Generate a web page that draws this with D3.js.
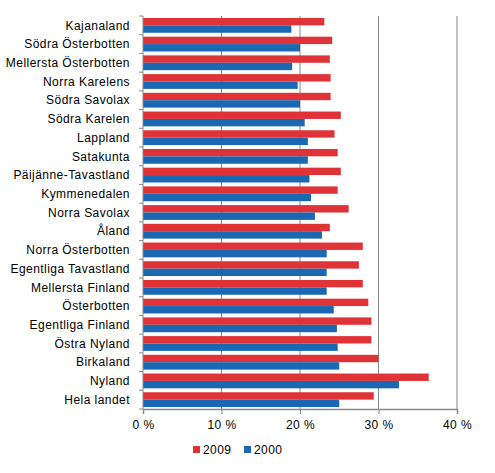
<!DOCTYPE html>
<html>
<head>
<meta charset="utf-8">
<script src="https://cdn.jsdelivr.net/npm/d3@7"></script>
<style>
  body { margin: 0; background: #fff; }
  text { font-family: "Liberation Sans", Arial, sans-serif; letter-spacing: 0.45px; }
</style>
</head>
<body>
<div id="chart"></div>
<script>
const regions = ["Kajanaland", "Södra Österbotten", "Mellersta Österbotten", "Norra Karelens",
  "Södra Savolax", "Södra Karelen", "Lappland", "Satakunta", "Päijänne-Tavastland",
  "Kymmenedalen", "Norra Savolax", "Åland", "Norra Österbotten", "Egentliga Tavastland",
  "Mellersta Finland", "Österbotten", "Egentliga Finland", "Östra Nyland", "Birkaland",
  "Nyland", "Hela landet"];
const values2009 = [23.1, 24.1, 23.8, 23.9, 23.9, 25.2, 24.4, 24.8, 25.2, 24.8, 26.2,
  23.8, 28.0, 27.5, 28.0, 28.7, 29.1, 29.1, 30.0, 36.4, 29.4];
const values2000 = [18.9, 20.0, 19.0, 19.7, 20.0, 20.6, 21.0, 21.0, 21.2, 21.4, 21.9,
  22.8, 23.4, 23.4, 23.4, 24.3, 24.7, 24.8, 25.0, 32.6, 25.0];
const seriesNames = ["2009", "2000"];
const xTicks = [0, 10, 20, 30, 40];

const colors = { "2009": "#e03337", "2000": "#1a68b2" };

const margin = { top: 16, right: 38, bottom: 64, left: 143 },
      width = 495 - margin.left - margin.right,
      height = 473 - margin.top - margin.bottom;

const svg = d3.select("#chart")
  .append("svg")
  .attr("width", 495)
  .attr("height", 473)
  .append("g")
  .attr("transform", `translate(${margin.left},${margin.top})`);

const data = regions.map((r, i) => ({ region: r, "2009": values2009[i], "2000": values2000[i] }));

const x = d3.scaleLinear().domain([0, 40]).range([0, width]);
const y = d3.scaleBand().domain(regions).range([0, height]).paddingInner(0.21).paddingOuter(0.105);
const ySub = d3.scaleBand().domain(seriesNames).range([0, y.bandwidth()]);

// gridlines
svg.selectAll("line.grid")
  .data(xTicks.slice(1))
  .enter()
  .append("line")
  .attr("class", "grid")
  .attr("x1", d => x(d))
  .attr("x2", d => x(d))
  .attr("y1", 0)
  .attr("y2", height)
  .attr("stroke", "#888")
  .attr("stroke-width", 1);

// bars
const groups = svg.selectAll("g.row")
  .data(data)
  .enter()
  .append("g")
  .attr("transform", d => `translate(0,${y(d.region)})`);

groups.selectAll("rect")
  .data(d => seriesNames.map(s => ({ key: s, value: d[s] })))
  .enter()
  .append("rect")
  .attr("x", 0)
  .attr("y", d => ySub(d.key))
  .attr("width", d => x(d.value))
  .attr("height", ySub.bandwidth())
  .attr("fill", d => colors[d.key]);

// left axis, ticks sit between categories
const edges = d3.range(regions.length + 1).map(i => i * height / regions.length);
svg.append("line")
  .attr("x1", 0).attr("x2", 0).attr("y1", 0).attr("y2", height)
  .attr("stroke", "#888");
svg.selectAll("line.ytick")
  .data(edges)
  .enter()
  .append("line")
  .attr("x1", -4).attr("x2", 0)
  .attr("y1", d => d).attr("y2", d => d)
  .attr("stroke", "#888");

svg.selectAll("text.ylab")
  .data(regions)
  .enter()
  .append("text")
  .attr("x", -13)
  .attr("y", d => y(d) + y.bandwidth() / 2)
  .attr("dy", "0.35em")
  .attr("text-anchor", "end")
  .attr("font-size", 12)
  .attr("fill", "#000")
  .text(d => d);

// bottom axis
const xAxis = svg.append("g")
  .attr("transform", `translate(0,${height})`)
  .call(d3.axisBottom(x).tickValues(xTicks).tickSize(5).tickPadding(6).tickFormat(d => d + " %"));
xAxis.select(".domain").attr("stroke", "#888").attr("stroke-width", 1.5);
xAxis.selectAll(".tick line").attr("stroke", "#888");
xAxis.selectAll(".tick text")
  .attr("font-size", 12)
  .attr("font-family", "Liberation Sans, Arial, sans-serif")
  .attr("fill", "#000");

// legend
const legend = svg.append("g")
  .attr("transform", `translate(${193 - margin.left},${446 - margin.top})`);
seriesNames.forEach((s, i) => {
  const g = legend.append("g").attr("transform", `translate(${i * 51},0)`);
  g.append("rect").attr("x", 0).attr("y", 0).attr("width", 7).attr("height", 7).attr("fill", colors[s]);
  g.append("text").attr("x", 10).attr("y", 4).attr("dy", "0.35em")
    .attr("font-size", 12).attr("fill", "#000").text(s);
});
</script>
</body>
</html>
